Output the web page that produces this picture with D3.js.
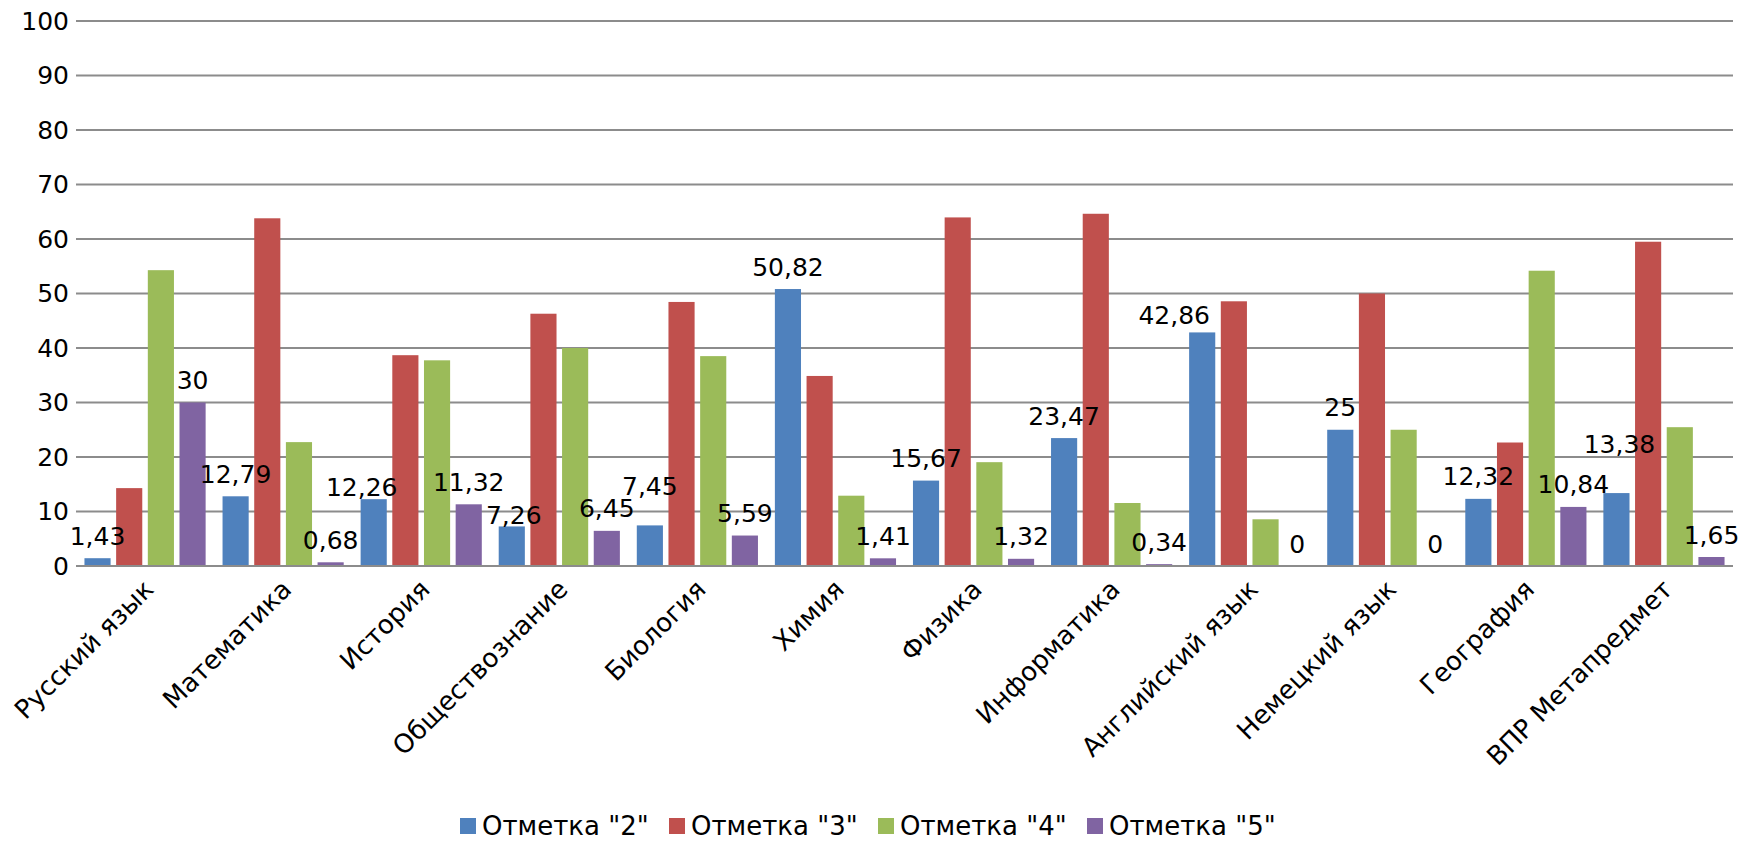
<!DOCTYPE html>
<html><head><meta charset="utf-8">
<script src="https://cdn.jsdelivr.net/npm/d3@7"></script>
<style>
html,body{margin:0;padding:0;background:#fff;}
svg{display:block;font-family:"DejaVu Sans",sans-serif;}
</style></head>
<body>
<svg id="chart" width="1744" height="841"></svg>
<script>
const categories = ["Русский язык","Математика","История","Обществознание","Биология","Химия","Физика","Информатика","Английский язык","Немецкий язык","География","ВПР Метапредмет"];
const seriesNames = ['Отметка "2"','Отметка "3"','Отметка "4"','Отметка "5"'];
const mark2 = [1.43,12.79,12.26,7.26,7.45,50.82,15.67,23.47,42.86,25,12.32,13.38];
const mark3 = [14.29,63.8,38.68,46.29,48.45,34.87,63.96,64.63,48.57,50,22.66,59.5];
const mark4 = [54.28,22.73,37.74,40.0,38.51,12.9,19.05,11.56,8.57,25,54.18,25.47];
const mark5 = [30,0.68,11.32,6.45,5.59,1.41,1.32,0.34,0,0,10.84,1.65];
const yTicks = [0,10,20,30,40,50,60,70,80,90,100];
const colors = ["#4F81BD","#C0504D","#9BBB59","#8064A2"];
const labelledSeries = [0,3];

const seriesValues = [mark2, mark3, mark4, mark5];
const svg = d3.select("#chart");
const m = {left:76, right:11, top:21, bottom:275};
const W = 1744, H = 841;
const x0 = d3.scaleBand().domain(categories).range([m.left, W-m.right]).paddingInner(0).paddingOuter(0);
const x1 = d3.scaleBand().domain(d3.range(4)).range([0, x0.bandwidth()]).paddingInner(0.175).paddingOuter(0.267);
const y = d3.scaleLinear().domain([0,100]).range([H-m.bottom, m.top]);
const fmt = v => String(v).replace(".", ",");

// gridlines
svg.append("g").selectAll("line").data(yTicks).join("line")
  .attr("x1", m.left).attr("x2", W-m.right)
  .attr("y1", d=>y(d)).attr("y2", d=>y(d))
  .attr("stroke","#8c8c8c").attr("stroke-width",2);

// y axis labels
const yAxis = d3.axisLeft(y).tickValues(yTicks).tickSize(0).tickPadding(7);
const ga = svg.append("g").attr("transform",`translate(${m.left},0)`).call(yAxis);
ga.select(".domain").remove();
ga.selectAll("text").attr("font-size",25).attr("font-family","DejaVu Sans").attr("fill","#000");

// bars
const data = [];
categories.forEach((c,i)=>seriesValues.forEach((s,j)=>data.push({c, j, v:s[i]})));
svg.append("g").selectAll("rect").data(data).join("rect")
  .attr("x", d=>x0(d.c)+x1(d.j))
  .attr("width", x1.bandwidth())
  .attr("y", d=>y(d.v))
  .attr("height", d=>y(0)-y(d.v))
  .attr("fill", d=>colors[d.j]);

// labels (with label-collision nudges like the original)
const nudge = {
  "0|История": [-12, 10],
  "0|Обществознание": [2, 11],
  "0|Биология": [0, -17],
  "0|Английский язык": [-28, 5.5],
  "0|ВПР Метапредмет": [3, -27]
};
svg.append("g").selectAll("text").data(data.filter(d=>labelledSeries.includes(d.j))).join("text")
  .attr("x", d=>x0(d.c)+x1(d.j)+x1.bandwidth()/2 + ((nudge[d.j+"|"+d.c]||[0,0])[0]))
  .attr("y", d=>y(d.v)-13.5 + ((nudge[d.j+"|"+d.c]||[0,0])[1]))
  .attr("text-anchor","middle")
  .attr("font-size",25).attr("fill","#000")
  .text(d=>fmt(d.v));

// x axis baseline
svg.append("line").attr("x1",m.left).attr("x2",W-m.right).attr("y1",y(0)).attr("y2",y(0))
  .attr("stroke","#8c8c8c").attr("stroke-width",2);

// x axis labels
const xAxis = d3.axisBottom(x0).tickSize(0).tickPadding(0);
const gx = svg.append("g").attr("transform",`translate(0,${y(0)})`).call(xAxis);
gx.select(".domain").remove();
gx.selectAll("text")
  .attr("font-size",26).attr("font-family","DejaVu Sans").attr("fill","#000")
  .attr("text-anchor","end")
  .attr("dy",null).attr("y",0).attr("x",0)
  .attr("transform","translate(10,25) rotate(-45)");

// legend
const lg = svg.append("g").attr("transform","translate(460,826)");
const items = lg.selectAll("g").data(seriesNames).join("g")
  .attr("transform",(d,i)=>`translate(${i*209},0)`);
items.append("rect").attr("x",0).attr("y",-8).attr("width",16).attr("height",16).attr("fill",(d,i)=>colors[i]);
items.append("text").attr("x",22).attr("y",0).attr("dy","0.35em").attr("font-size",26).attr("fill","#000").text(d=>d);
</script>
</body></html>
